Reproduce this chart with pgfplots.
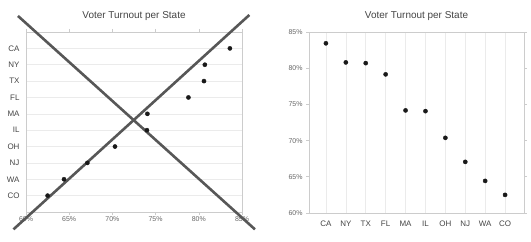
\documentclass[border=0pt]{standalone}
\usepackage{pgfplots}
\pgfplotsset{compat=1.18}
\usepackage{fontspec}
\setmainfont{Liberation Sans}
\definecolor{frame}{HTML}{CCCCCC}
\definecolor{gridc}{HTML}{EBEBEB}
\definecolor{catc}{HTML}{444444}
\definecolor{numc}{HTML}{666666}
\definecolor{xline}{HTML}{575757}
\begin{document}
\begin{tikzpicture}
\useasboundingbox (0,0) rectangle (531bp,242bp);
\pgfplotsset{
  common/.style={
    scale only axis,
    anchor=south west,
    axis line style={frame, line width=0.8bp},
    major grid style={gridc, line width=0.6bp},
    tick style={frame, line width=0.6bp},
    major tick length=3bp,
    tick align=outside,
    title style={font=\fontsize{10}{12}\selectfont, text=catc, at={(0.5,1)}, anchor=base, yshift=8bp},
    title={Voter Turnout per State},
    /pgf/number format/assume math mode=true,
    mark size=2.1bp,
  }
}
\begin{axis}[common,
  at={(26bp,30bp)}, width=216bp, height=180bp,
  xmin=60, xmax=85, xtick={60,65,70,75,80,85},
  xticklabels={60\%,65\%,70\%,75\%,80\%,85\%},
  xticklabel style={font=\fontsize{7}{8}\selectfont, text=numc, yshift=1.5bp},
  ymin=-1, ymax=10, ytick={0,...,9},
  yticklabels={CO,WA,NJ,OH,IL,MA,FL,TX,NY,CA},
  yticklabel style={font=\fontsize{8}{9}\selectfont, text=catc},
  ymajorgrids, ytick style={draw=none},
  clip=false,
]
\addplot[only marks, mark=*, mark options={fill=black!90, draw=black!90}] coordinates {
 (62.5,0) (64.4,1) (67.1,2) (70.3,3) (74.0,4) (74.05,5) (78.8,6) (80.6,7) (80.7,8) (83.6,9)
};
\draw[xline, line width=2.6bp] (axis cs:59.07,10.98) -- (axis cs:86.5,-2.06);
\draw[xline, line width=2.6bp] (axis cs:85.85,11.04) -- (axis cs:58.55,-2.06);
\end{axis}
\begin{axis}[common,
  at={(309bp,29bp)}, width=215bp, height=181bp,
  xmin=-0.85, xmax=9.95, xtick={0,...,9},
  xticklabels={CA,NY,TX,FL,MA,IL,OH,NJ,WA,CO},
  xticklabel style={font=\fontsize{8}{9}\selectfont, text=catc, yshift=-1bp},
  xmajorgrids, xtick style={draw=none},
  ymin=60, ymax=85, ytick={60,65,70,75,80,85},
  yticklabels={60\%,65\%,70\%,75\%,80\%,85\%},
  yticklabel style={font=\fontsize{7}{8}\selectfont, text=numc},
]
\addplot[only marks, mark=*, mark options={fill=black!90, draw=black!90}] coordinates {
 (0,83.44) (1,80.8) (2,80.7) (3,79.15) (4,74.17) (5,74.07) (6,70.38) (7,67.06) (8,64.43) (9,62.5)
};
\end{axis}
\end{tikzpicture}
\end{document}
